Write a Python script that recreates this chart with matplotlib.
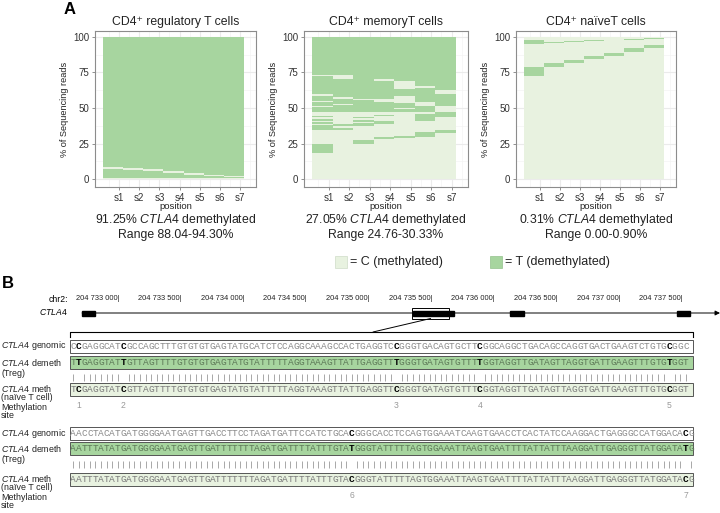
import matplotlib.pyplot as plt
from matplotlib.patches import Rectangle, ConnectionPatch

plt.rcParams['font.family'] = ['Liberation Sans', 'DejaVu Sans']
plt.rcParams['mathtext.fontset'] = 'custom'
plt.rcParams['mathtext.rm'] = 'Liberation Sans'
plt.rcParams['mathtext.it'] = 'Liberation Sans:italic'
plt.rcParams['mathtext.bf'] = 'Liberation Sans:bold'

W, H = 720, 513
C_METH = '#e8f2e0'
T_DEMETH = '#a7d59f'

# ---------------- Panel A data ----------------
positions = ['s1', 's2', 's3', 's4', 's5', 's6', 's7']
cell_titles = ['CD4⁺ regulatory T cells', 'CD4⁺ memoryT cells', 'CD4⁺ naïveT cells']
demeth_pct = ['91.25%', '27.05%', '0.31%']
demeth_range = ['88.04-94.30%', '24.76-30.33%', '0.00-0.90%']

# blocks of demethylated (T) reads per position, in % of reads (low, high)
treg_T = [
    [(0.5, 7.4), (8.7, 100)],
    [(0.5, 6.6), (7.8, 100)],
    [(0.5, 5.7), (7.0, 100)],
    [(0.5, 4.5), (5.8, 100)],
    [(0.5, 3.1), (4.4, 100)],
    [(0.5, 2.1), (3.0, 100)],
    [(0.5, 1.5), (2.3, 100)],
]
memory_T = [
    [(18, 24.5), (34.5, 37.8), (38.5, 40), (41.2, 42.4), (43.8, 44.7), (47, 50.8),
     (51.5, 54.1), (54.8, 58.4), (60, 72.2), (73.4, 100)],
    [(34.6, 36.2), (37, 38.8), (47, 52), (52.6, 56.5), (57.8, 70.6), (73, 100)],
    [(24.7, 27.8), (37, 39.3), (40.5, 41.6), (42.8, 44), (47, 55.3), (56.5, 100)],
    [(28, 29.6), (38.8, 41), (44.2, 45.2), (47, 54), (56.5, 68.7), (70.4, 100)],
    [(29.2, 30.4), (47, 49), (50, 53.5), (58.8, 63.3), (69.2, 100)],
    [(29.6, 33), (41.2, 45.6), (47, 51.5), (54.1, 64), (65.6, 100)],
    [(32.7, 34.6), (43.5, 47), (51.5, 59.8), (62.8, 100)],
]
naive_T = [
    [(72.8, 79), (95, 97.8)],
    [(79, 81.8), (95.6, 96.3)],
    [(82, 84), (96.4, 97)],
    [(84.3, 86.4), (97, 97.6)],
    [(86.6, 89), (97.6, 98.1)],
    [(89.2, 92), (98.1, 98.6)],
    [(92, 94.4), (98.5, 99.6)],
]
panel_T = [treg_T, memory_T, naive_T]
y_ticks = [0, 25, 50, 75, 100]

# ---------------- Panel B data ----------------
chr_ticks = [204733000, 204733500, 204734000, 204734500, 204735000,
             204735500, 204736000, 204736500, 204737000, 204737500]
gene_span = (204732705, 204737765)
exons = [(204732705, 204732808), (204736120, 204736232), (204737453, 204737557)]
focus_exon = (204735347, 204735675)
focus_box = (204735340, 204735632)

genomic_1 = "CCGAGGCATCGCCAGCTTTGTGTGTGAGTATGCATCTCCAGGCAAAGCCACTGAGGTCCGGGTGACAGTGCTTCGGCAGGCTGACAGCCAGGTGACTGAAGTCTGTGCGGC"
demeth_1 = "TTGAGGTATTGTTAGTTTTGTGTGTGAGTATGTATTTTTAGGTAAAGTTATTGAGGTTTGGGTGATAGTGTTTTGGTAGGTTGATAGTTAGGTGATTGAAGTTTGTGTGGT"
meth_1 = "TCGAGGTATCGTTAGTTTTGTGTGTGAGTATGTATTTTTAGGTAAAGTTATTGAGGTTCGGGTGATAGTGTTTCGGTAGGTTGATAGTTAGGTGATTGAAGTTTGTGCGGT"
cpg_1 = [1, 9, 58, 73, 107]
sites_1 = ['1', '2', '3', '4', '5']

genomic_2 = "AACCTACATGATGGGGAATGAGTTGACCTTCCTAGATGATTCCATCTGCACGGGCACCTCCAGTGGAAATCAAGTGAACCTCACTATCCAAGGACTGAGGGCCATGGACACG"
demeth_2 = "AATTTATATGATGGGGAATGAGTTGATTTTTTTAGATGATTTTATTTGTATGGGTATTTTTAGTGGAAATTAAGTGAATTTTATTATTTAAGGATTGAGGGTTATGGATATG"
meth_2 = "AATTTATATGATGGGGAATGAGTTGATTTTTTTAGATGATTTTATTTGTACGGGTATTTTTAGTGGAAATTAAGTGAATTTTATTATTTAAGGATTGAGGGTTATGGATACG"
cpg_2 = [50, 110]
sites_2 = ['6', '7']

fig = plt.figure(figsize=(W / 100, H / 100), dpi=100)


def px_axes(l, t, r, b):
    return fig.add_axes([l / W, 1 - b / H, (r - l) / W, (b - t) / H])


# ---------------- Panel A ----------------
panel_boxes = [(95, 31, 256, 187), (304, 31, 468, 187), (516, 31, 676, 187)]
xs = list(range(1, len(positions) + 1))
for k, (l, t, r, b) in enumerate(panel_boxes):
    ax = px_axes(l, t, r, b)
    for x, blocks in zip(xs, panel_T[k]):
        ax.bar(x - 0.3, 100, width=1, color=C_METH, lw=0, zorder=2)
        for lo, hi in blocks:
            ax.bar(x - 0.3, hi - lo, bottom=lo, width=1, color=T_DEMETH, lw=0, zorder=3)
    ax.set_xlim(-0.2, 7.8)
    ax.set_ylim(-5.6, 104.2)
    ax.set_xticks(xs)
    ax.set_xticklabels(positions, fontsize=7)
    ax.set_yticks(y_ticks)
    ax.set_yticklabels([str(v) for v in y_ticks], fontsize=7)
    ax.set_xticks([x + 0.5 for x in range(0, 8)], minor=True)
    ax.set_yticks([12.5, 37.5, 62.5, 87.5], minor=True)
    ax.grid(which='major', color='#ebebeb', lw=0.8, zorder=0)
    ax.grid(which='minor', color='#f4f4f4', lw=0.5, zorder=0)
    ax.tick_params(which='major', length=2.5, width=0.6, color='#7f7f7f', pad=1.5, labelcolor='#333333')
    ax.tick_params(which='minor', length=0)
    for s in ax.spines.values():
        s.set_color('#8c8c8c')
        s.set_linewidth(0.8)
    ax.set_xlabel('position', fontsize=6.8, labelpad=-0.5, color='#222222')
    ax.set_ylabel('% of Sequencing reads', fontsize=6.6, labelpad=3, color='#222222')
    ax.set_title(cell_titles[k], fontsize=8.8, pad=4, color='#222222')

# overlay in pixel coordinates for annotation text and sequences
ov = fig.add_axes([0, 0, 1, 1])
ov.set_xlim(0, W)
ov.set_ylim(H, 0)
ov.axis('off')

ov.text(64, 10, 'A', fontsize=12, fontweight='bold', ha='left', va='center')
for k, (l, t, r, b) in enumerate(panel_boxes):
    cx = (l + r) / 2
    ov.text(cx, 220, demeth_pct[k] + r' $\mathit{CTLA4}$ demethylated', fontsize=8.8,
            ha='center', va='center', color='#222222')
    ov.text(cx, 235, 'Range ' + demeth_range[k], fontsize=8.8, ha='center', va='center',
            color='#222222')

# legend
ov.add_patch(Rectangle((335, 256), 12, 12, facecolor=C_METH, edgecolor='#cfdcc8', lw=0.5))
ov.text(350, 262.5, '= C (methylated)', fontsize=9, ha='left', va='center', color='#222222')
ov.add_patch(Rectangle((490, 256), 12, 12, facecolor=T_DEMETH, edgecolor='#94c28c', lw=0.5))
ov.text(505, 262.5, '= T (demethylated)', fontsize=9, ha='left', va='center', color='#222222')

# ---------------- Panel B: genomic track ----------------
ov.text(2, 284, 'B', fontsize=12, fontweight='bold', ha='left', va='center')
gax = fig.add_axes([0, 0, 1, 1])
gax.set_xlim(204732050, 204737795)
gax.set_ylim(H, 0)
gax.axis('off')
y_gene = 313
gax.text(204732590, 299, 'chr2:', fontsize=6.2, ha='right', va='center')
gax.text(204732590, y_gene - 1.5, r'$\mathit{CTLA4}$', fontsize=6.2, ha='right', va='center')
for t in chr_ticks:
    lab = f'{t:,}'.replace(',', ' ')
    gax.text(t, 299, lab + '|', fontsize=5.4, ha='right', va='center', color='#222222')
gax.annotate('', xy=(gene_span[1] + 30, y_gene), xytext=(gene_span[0], y_gene),
             arrowprops=dict(arrowstyle='-|>', lw=0.7, color='black', mutation_scale=7,
                             shrinkA=0, shrinkB=0))
for s, e in exons:
    gax.add_patch(Rectangle((s, y_gene - 2.5), e - s, 5, color='black', zorder=3))
gax.add_patch(Rectangle((focus_exon[0], y_gene - 2.5), focus_exon[1] - focus_exon[0], 5,
                        color='black', zorder=3))
gax.add_patch(Rectangle((focus_box[0], y_gene - 5.5), focus_box[1] - focus_box[0], 11,
                        facecolor='none', edgecolor='black', lw=0.7, zorder=4))

SEQ_L, SEQ_R = 70, 693
X0, STEP = 73.2, 5.57
con = ConnectionPatch(xyA=((focus_box[0] + focus_box[1]) / 2, y_gene + 5.5), coordsA=gax.transData,
                      xyB=(373, 332), coordsB=ov.transData, color='black', lw=0.7)
fig.add_artist(con)
ov.plot([SEQ_L, SEQ_L, SEQ_R, SEQ_R], [337, 332, 332, 337], color='black', lw=0.8)


def seq_row(seq, y, bold_idx, face, txt_col):
    ov.add_patch(Rectangle((SEQ_L, y - 6.5), SEQ_R - SEQ_L, 13, facecolor=face,
                           edgecolor='#555555', lw=0.7))
    for i, ch in enumerate(seq):
        b = i in bold_idx
        ov.text(X0 + i * STEP, y + 0.6, ch, ha='center', va='center', fontsize=6.8,
                family='Liberation Mono', color='black' if b else txt_col,
                fontweight='bold' if b else 'normal')


def label(y, lines, gap=9):
    for j, s in enumerate(lines):
        ov.text(1, y + j * gap, s, fontsize=6.4, ha='left', va='center', color='#222222')


def block(gen, dem, met, cpg, sites, ys):
    yg, yd, yt, ym, ysite = ys
    seq_row(gen, yg, cpg, 'white', '#8a8a8a')
    seq_row(dem, yd, cpg, T_DEMETH, '#5e7a58')
    match = [X0 + i * STEP for i in range(len(dem)) if dem[i] == met[i]]
    ov.vlines(match, yt - 3.5, yt + 3.5, color='#9a9a9a', lw=0.6)
    seq_row(met, ym, cpg, C_METH, '#7a7a7a')
    for i, s in zip(cpg, sites):
        ov.text(X0 + i * STEP, ysite, s, fontsize=6.2, ha='center', va='center', color='#9a9a9a')
    label(yg, [r'$\mathit{CTLA4}$ genomic'])
    label(yd, [r'$\mathit{CTLA4}$ demeth', '(Treg)'], gap=11)
    label(ym, [r'$\mathit{CTLA4}$ meth', '(naïve T cell)', 'Methylation', 'site'])


block(genomic_1, demeth_1, meth_1, cpg_1, sites_1, (346, 362, 377, 389, 405))
block(genomic_2, demeth_2, meth_2, cpg_2, sites_2, (433, 448, 464, 479, 495))

fig.savefig('out.png', dpi=100)
